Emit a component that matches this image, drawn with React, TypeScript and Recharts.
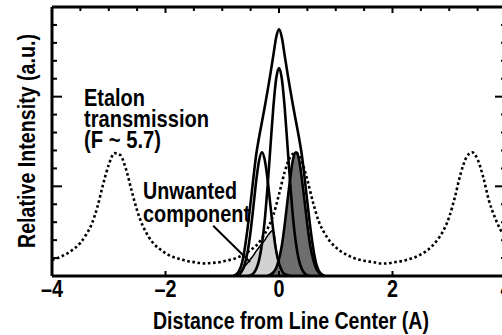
import React from "react";
import { ComposedChart, Line, Area, XAxis, YAxis, ReferenceLine } from "recharts";

// ---- tick definitions ----
const xMajorTicks = [-4, -2, 0, 2, 4];
const xMajorLabels = ["–4", "–2", "0", "2", "4"];
const xTopTicks = [-4, -3.5, -3, -2.5, -2, -1.5, -1, -0.5, 0, 0.5, 1, 1.5, 2, 2.5, 3, 3.5, 4];
const yTicks = [0, 0.2, 0.4, 0.6, 0.8, 1, 1.2, 1.4, 1.6, 1.8, 2, 2.2, 2.4, 2.6, 2.8, 3];

// ---- etalon transmission (dotted) ----
const etalonX = [
  -4.0, -3.9, -3.8, -3.7, -3.6, -3.5, -3.4, -3.3, -3.2, -3.1, -3.0, -2.9, -2.8, -2.7, -2.6, -2.5, -2.4, -2.3, -2.2, -2.1,
  -2.0, -1.9, -1.8, -1.7, -1.6, -1.5, -1.4, -1.3, -1.2, -1.1, -1.0, -0.9, -0.8, -0.7, -0.6, -0.5, -0.4, -0.3, -0.2, -0.1,
  0.0, 0.1, 0.2, 0.3, 0.4, 0.5, 0.6, 0.7, 0.8, 0.9, 1.0, 1.1, 1.2, 1.3, 1.4, 1.5, 1.6, 1.7, 1.8, 1.9,
  2.0, 2.1, 2.2, 2.3, 2.4, 2.5, 2.6, 2.7, 2.8, 2.9, 3.0, 3.1, 3.2, 3.3, 3.4, 3.5, 3.6, 3.7, 3.8, 3.9, 4.0,
];
const etalonT = [
  0.18, 0.2, 0.23, 0.265, 0.31, 0.37, 0.46, 0.58, 0.77, 1.02, 1.24, 1.37, 1.35, 1.2, 0.96, 0.73, 0.56, 0.44, 0.355, 0.3,
  0.255, 0.22, 0.2, 0.18, 0.165, 0.155, 0.145, 0.14, 0.145, 0.15, 0.16, 0.175, 0.19, 0.215, 0.245, 0.29, 0.34, 0.42, 0.53, 0.68,
  0.91, 1.16, 1.33, 1.375, 1.28, 1.07, 0.82, 0.61, 0.48, 0.385, 0.32, 0.27, 0.235, 0.205, 0.185, 0.17, 0.16, 0.15, 0.14, 0.14,
  0.15, 0.16, 0.17, 0.19, 0.21, 0.24, 0.28, 0.335, 0.41, 0.51, 0.66, 0.88, 1.14, 1.32, 1.38, 1.3, 1.1, 0.84, 0.66, 0.52, 0.42,
];

// ---- total line profile (tall envelope) ----
const envelopeX = [
  -0.8, -0.75, -0.7, -0.65, -0.6, -0.55, -0.5, -0.45, -0.4, -0.35, -0.3, -0.25, -0.2, -0.15, -0.1, -0.05, 0,
  0.05, 0.1, 0.15, 0.2, 0.25, 0.3, 0.35, 0.4, 0.45, 0.5, 0.55, 0.6, 0.65, 0.7, 0.75, 0.8,
];
const envelopeY = [
  0, 0.02, 0.06, 0.15, 0.32, 0.55, 0.82, 1.1, 1.36, 1.55, 1.72, 1.89, 2.07, 2.26, 2.46, 2.66, 2.75,
  2.66, 2.46, 2.26, 2.07, 1.89, 1.72, 1.55, 1.36, 1.1, 0.82, 0.55, 0.32, 0.15, 0.06, 0.02, 0,
];

// ---- central component ----
const centralX = [
  -0.55, -0.5, -0.45, -0.4, -0.35, -0.3, -0.25, -0.2, -0.15, -0.1, -0.05, 0,
  0.05, 0.1, 0.15, 0.2, 0.25, 0.3, 0.35, 0.4, 0.45, 0.5, 0.55,
];
const centralY = [
  0, 0.01, 0.03, 0.08, 0.18, 0.36, 0.63, 1.01, 1.45, 1.88, 2.2, 2.32,
  2.2, 1.88, 1.45, 1.01, 0.63, 0.36, 0.18, 0.08, 0.03, 0.01, 0,
];

// ---- shifted components ----
const sigmaMinusX = [
  -0.8, -0.75, -0.7, -0.65, -0.6, -0.55, -0.5, -0.45, -0.4, -0.35, -0.3,
  -0.25, -0.2, -0.15, -0.1, -0.05, 0, 0.05, 0.1, 0.15, 0.2,
];
const sigmaMinusY = [
  0, 0.01, 0.02, 0.06, 0.14, 0.28, 0.5, 0.78, 1.07, 1.29, 1.38,
  1.29, 1.07, 0.78, 0.5, 0.28, 0.14, 0.06, 0.02, 0.01, 0,
];
const sigmaPlusX = [
  -0.2, -0.15, -0.1, -0.05, 0, 0.05, 0.1, 0.15, 0.2, 0.25, 0.3,
  0.35, 0.4, 0.45, 0.5, 0.55, 0.6, 0.65, 0.7, 0.75, 0.8,
];
const sigmaPlusY = [
  0, 0.015, 0.04, 0.09, 0.19, 0.34, 0.57, 0.84, 1.1, 1.31, 1.38,
  1.31, 1.1, 0.84, 0.57, 0.34, 0.19, 0.09, 0.04, 0.015, 0,
];

// ---- unwanted transmitted component ----
const unwantedX = [
  -0.8, -0.75, -0.7, -0.65, -0.6, -0.55, -0.5, -0.45, -0.4, -0.35,
  -0.3, -0.25, -0.2, -0.15, -0.1, -0.05, 0, 0.05, 0.1, 0.15,
];
const unwantedY = [
  0, 0.01, 0.02, 0.06, 0.11, 0.15, 0.19, 0.23, 0.28, 0.32,
  0.36, 0.4, 0.45, 0.49, 0.51, 0.28, 0.14, 0.06, 0.02, 0,
];

// arrow annotation endpoints (data units)
const arrowFrom = { x: -1.16, y: 0.56 };
const arrowTo = { x: -0.51, y: 0.156 };

const pts = (xs: number[], ys: number[]) => xs.map((x, i) => ({ x, y: ys[i] }));

const FONT = "'Liberation Sans', Arial, Helvetica, sans-serif";

const BottomTick = (props: any) => {
  const { x, y, payload } = props;
  const idx = xMajorTicks.indexOf(payload.value);
  const label = idx >= 0 ? xMajorLabels[idx] : String(payload.value);
  const tl = label.length > 1 ? 22 : 11;
  return (
    <g>
      <line x1={x} y1={y} x2={x} y2={y - 5} stroke="#000" strokeWidth={2} />
      <text
        x={x}
        y={y + 21}
        textAnchor="middle"
        fontFamily={FONT}
        fontWeight="bold"
        fontSize={23}
        fill="#000"
        textLength={tl}
        lengthAdjust="spacingAndGlyphs"
      >
        {label}
      </text>
    </g>
  );
};

const TopTick = (props: any) => {
  const { x, y, payload } = props;
  const major = Math.abs(payload.value % 2) < 1e-6;
  return <line x1={x} y1={y} x2={x} y2={y + (major ? 6 : 4)} stroke="#000" strokeWidth={2} />;
};

const LeftTick = (props: any) => {
  const { x, y, payload } = props;
  const major = Math.abs(payload.value - Math.round(payload.value)) < 1e-6;
  return <line x1={x} y1={y} x2={x + (major ? 10 : 5)} y2={y} stroke="#000" strokeWidth={2} />;
};

const RightTick = (props: any) => {
  const { x, y, payload } = props;
  const major = Math.abs(payload.value - Math.round(payload.value)) < 1e-6;
  return <line x1={x} y1={y} x2={x - (major ? 11 : 5)} y2={y} stroke="#000" strokeWidth={2} />;
};

const textProps = {
  fontFamily: FONT,
  fontWeight: "bold" as const,
  fontSize: 23,
  fill: "#000",
  lengthAdjust: "spacingAndGlyphs" as const,
};

export default function App() {
  const axisLine = { stroke: "#000", strokeWidth: 3 };
  return (
    <div
      style={{
        position: "absolute",
        left: 0,
        top: 0,
        width: 502,
        height: 335,
        overflow: "hidden",
        background: "#fff",
      }}
    >
      <ComposedChart width={560} height={335} margin={{ top: 6, right: 53, bottom: 0, left: 51 }}>
        <XAxis
          xAxisId={0}
          dataKey="x"
          type="number"
          domain={[-4, 4]}
          ticks={xMajorTicks}
          height={59}
          tickSize={0}
          tickMargin={0}
          tickLine={false}
          axisLine={axisLine}
          stroke="#000"
          tick={<BottomTick />}
          allowDataOverflow
          interval={0}
        />
        <XAxis
          xAxisId="top"
          orientation="top"
          dataKey="x"
          type="number"
          domain={[-4, 4]}
          ticks={xTopTicks}
          height={1}
          tickSize={0}
          tickMargin={0}
          tickLine={false}
          axisLine={axisLine}
          stroke="#000"
          tick={<TopTick />}
          allowDataOverflow
          interval={0}
        />
        <YAxis
          yAxisId={0}
          type="number"
          domain={[0, 3]}
          ticks={yTicks}
          width={1}
          tickSize={0}
          tickMargin={0}
          tickLine={false}
          axisLine={axisLine}
          stroke="#000"
          tick={<LeftTick />}
          allowDataOverflow
          interval={0}
        />
        <YAxis
          yAxisId="right"
          orientation="right"
          type="number"
          domain={[0, 3]}
          ticks={yTicks}
          width={1}
          tickSize={0}
          tickMargin={0}
          tickLine={false}
          axisLine={axisLine}
          stroke="#000"
          tick={<RightTick />}
          allowDataOverflow
          interval={0}
        />
        <Area
          data={pts(unwantedX, unwantedY)}
          dataKey="y"
          type="monotone"
          fill="#d2d2d2"
          fillOpacity={1}
          stroke="#000"
          strokeWidth={1.6}
          isAnimationActive={false}
          dot={false}
          activeDot={false}
        />
        <Area
          data={pts(sigmaPlusX, sigmaPlusY)}
          dataKey="y"
          type="monotone"
          fill="#6e6e6e"
          fillOpacity={1}
          stroke="#000"
          strokeWidth={2.6}
          isAnimationActive={false}
          dot={false}
          activeDot={false}
        />
        <Line
          data={pts(etalonX, etalonT)}
          dataKey="y"
          type="monotone"
          stroke="#000"
          strokeWidth={2.6}
          strokeDasharray="2.6 2.6"
          dot={false}
          activeDot={false}
          isAnimationActive={false}
        />
        <Line
          data={pts(sigmaMinusX, sigmaMinusY)}
          dataKey="y"
          type="monotone"
          stroke="#000"
          strokeWidth={2.6}
          dot={false}
          activeDot={false}
          isAnimationActive={false}
        />
        <Line
          data={pts(centralX, centralY)}
          dataKey="y"
          type="monotone"
          stroke="#000"
          strokeWidth={2.6}
          dot={false}
          activeDot={false}
          isAnimationActive={false}
        />
        <Line
          data={pts(envelopeX, envelopeY)}
          dataKey="y"
          type="monotone"
          stroke="#000"
          strokeWidth={2.6}
          dot={false}
          activeDot={false}
          isAnimationActive={false}
        />
        <ReferenceLine segment={[arrowFrom, arrowTo]} stroke="#000" strokeWidth={2} ifOverflow="visible" />
      </ComposedChart>
      <svg
        width={502}
        height={335}
        style={{ position: "absolute", left: 0, top: 0, pointerEvents: "none" }}
      >
        <text {...textProps} x={84} y={106} textLength={61}>Etalon</text>
        <text {...textProps} x={84} y={127} textLength={125}>transmission</text>
        <text {...textProps} x={84} y={148} textLength={77}>(F ~ 5.7)</text>
        <text {...textProps} x={143} y={199} textLength={94}>Unwanted</text>
        <text {...textProps} x={143} y={222} textLength={107}>component</text>
        <text {...textProps} x={153} y={329} textLength={276}>Distance from Line Center (A)</text>
        <text {...textProps} transform="translate(35,248) rotate(-90)" x={0} y={0} textLength={214}>
          Relative Intensity (a.u.)
        </text>
      </svg>
    </div>
  );
}
